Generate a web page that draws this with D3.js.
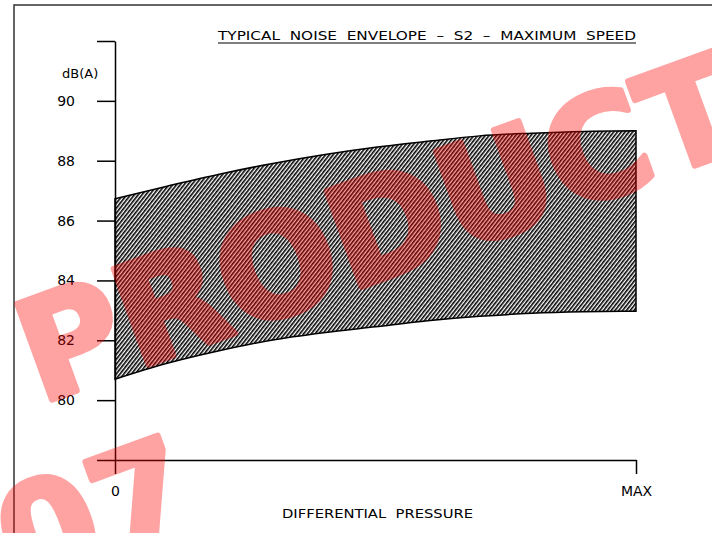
<!DOCTYPE html>
<html>
<head>
<meta charset="utf-8">
<script src="https://cdn.jsdelivr.net/npm/d3@7"></script>
<style>
  body { margin: 0; background: #fff; }
  svg { display: block; font-family: "DejaVu Sans", sans-serif; }
  .axis path, .axis line { stroke: #000; stroke-width: 1.5; }
  .axis text { font-size: 14px; fill: #000; font-family: "DejaVu Sans", sans-serif; }
</style>
</head>
<body>
<div id="chart"></div>
<script>
// noise envelope, dB(A) vs differential pressure (0 .. MAX, as % of max)

var pressure = [0, 10, 20, 30, 40, 50, 60, 70, 80, 90, 100]
var upperDb = [86.73, 87.15, 87.55, 87.9, 88.2, 88.45, 88.65, 88.83, 88.92, 88.98, 89.0]
var lowerDb = [80.7, 81.23, 81.65, 82.0, 82.25, 82.45, 82.65, 82.8, 82.9, 82.95, 82.97]

var yTicks = [78, 80, 82, 84, 86, 88, 90, 92]
var yLabels = ['', '80', '82', '84', '86', '88', '90', '']
var xTicks = [0, 100]
var xLabels = ['0', 'MAX']

var titleText = 'TYPICAL  NOISE  ENVELOPE  \u2013  S2  \u2013  MAXIMUM  SPEED'
var stampLines = ['PRODUCT', '07']

var width = 712,
    height = 533,
    plotLeft = 115,
    plotRight = 636,
    plotTop = 41,
    plotBottom = 460

var x = d3.scaleLinear().domain([0, 100]).range([plotLeft, plotRight])
var y = d3.scaleLinear().domain([78, 92]).range([plotBottom, plotTop])

var svg = d3.select('#chart').append('svg')
    .attr('width', width)
    .attr('height', height)

// hatch pattern
svg.append('defs').append('pattern')
    .attr('id', 'hatch')
    .attr('patternUnits', 'userSpaceOnUse')
    .attr('width', 3)
    .attr('height', 10)
    .attr('patternTransform', 'rotate(38)')
  .append('rect')
    .attr('x', 0).attr('y', 0)
    .attr('width', 1.6).attr('height', 10)
    .style('fill', '#000')

// page frame
svg.append('path')
    .attr('d', 'M14,' + height + 'V5H' + width)
    .style('fill', 'none')
    .style('stroke', '#333')
    .style('stroke-width', 1.5)

var envelope = pressure.map(function(p, i) {
  return {p: p, hi: upperDb[i], lo: lowerDb[i]}
})

var area = d3.area()
    .x(function(d) { return x(d.p) })
    .y0(function(d) { return y(d.lo) })
    .y1(function(d) { return y(d.hi) })
    .curve(d3.curveMonotoneX)

svg.append('path')
    .datum(envelope)
    .attr('d', area)
    .style('fill', 'url(#hatch)')
    .style('stroke', '#000')
    .style('stroke-width', 1.5)

// y axis
svg.append('g')
    .attr('class', 'axis')
    .attr('transform', 'translate(' + plotLeft + ',0)')
    .call(d3.axisLeft(y)
        .tickValues(yTicks)
        .tickSize(18)
        .tickSizeOuter(0)
        .tickPadding(22)
        .tickFormat(function(d, i) { return yLabels[i] }))

// x axis
svg.append('g')
    .attr('class', 'axis')
    .attr('transform', 'translate(0,' + plotBottom + ')')
    .call(d3.axisBottom(x)
        .tickValues(xTicks)
        .tickSize(14)
        .tickSizeOuter(0)
        .tickPadding(12)
        .tickFormat(function(d, i) { return xLabels[i] }))

svg.append('text')
    .attr('x', 62)
    .attr('y', 78)
    .style('font-size', '13px')
    .text('dB(A)')

svg.append('text')
    .attr('x', 282)
    .attr('y', 518)
    .attr('textLength', 191)
    .attr('lengthAdjust', 'spacingAndGlyphs')
    .style('font-size', '13px')
    .style('white-space', 'pre')
    .text('DIFFERENTIAL  PRESSURE')

svg.append('text')
    .attr('x', 218)
    .attr('y', 40)
    .attr('textLength', 418)
    .attr('lengthAdjust', 'spacingAndGlyphs')
    .style('font-size', '13px')
    .style('white-space', 'pre')
    .text(titleText)

svg.append('line')
    .attr('x1', 218).attr('x2', 636)
    .attr('y1', 43).attr('y2', 43)
    .style('stroke', '#000')
    .style('stroke-width', 1.2)

// red stamp over the whole drawing
var stamp = svg.append('g')
    .attr('transform', 'translate(40,404) rotate(-20)')
    .style('opacity', 0.36)

stamp.selectAll('text')
  .data(stampLines)
  .enter().append('text')
    .attr('x', function(d, i) { return i === 0 ? 0 : 111 })
    .attr('y', function(d, i) { return i * 172 })
    .attr('text-anchor', function(d, i) { return i === 0 ? 'start' : 'end' })
    .style('font-family', '"DejaVu Sans", sans-serif')
    .style('font-weight', 'bold')
    .style('font-size', '140px')
    .style('fill', '#ff0000')
    .style('stroke', '#ff0000')
    .style('stroke-width', 6)
    .style('stroke-linejoin', 'round')
    .text(function(d) { return d })
</script>
</body>
</html>
